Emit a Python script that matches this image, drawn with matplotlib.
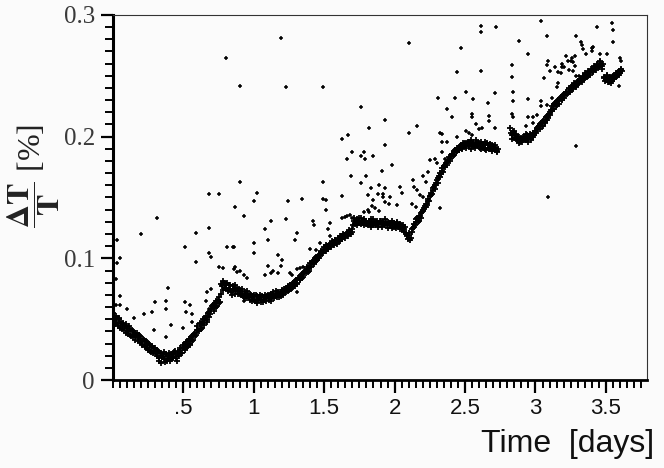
import numpy as np
import matplotlib
matplotlib.use("Agg")
import matplotlib.pyplot as plt
from matplotlib.ticker import MultipleLocator, FixedLocator

band_a_start = 0.00
band_a = [
    0.055, 0.049, 0.053, 0.047, 0.050, 0.043, 0.048, 0.045, 0.041, 0.046,
    0.043, 0.038, 0.042, 0.036, 0.040, 0.037, 0.033, 0.039, 0.035, 0.036,
    0.034, 0.029, 0.033, 0.027, 0.031, 0.025, 0.029, 0.023, 0.028, 0.024,
    0.026, 0.020, 0.024, 0.016, 0.022, 0.019, 0.023, 0.015, 0.021, 0.018,
    0.022, 0.017, 0.021, 0.019, 0.024, 0.018, 0.023, 0.020, 0.026, 0.022,
    0.029, 0.025, 0.031, 0.028, 0.034, 0.030, 0.036, 0.033, 0.039, 0.037,
    0.044, 0.040, 0.047, 0.043, 0.050, 0.047, 0.053, 0.049, 0.056, 0.054,
    0.058, 0.062, 0.059, 0.065, 0.061, 0.068, 0.064, 0.079, 0.074, 0.080,
    0.076, 0.080, 0.074, 0.078, 0.072, 0.077, 0.075, 0.071, 0.076, 0.073,
    0.074, 0.070, 0.073, 0.068, 0.072, 0.069, 0.071, 0.066, 0.070, 0.068,
    0.070, 0.065, 0.069, 0.066, 0.068, 0.064, 0.069, 0.066, 0.070, 0.067,
    0.070, 0.066, 0.071, 0.068, 0.072, 0.069, 0.073, 0.070, 0.068, 0.072,
    0.074, 0.070, 0.075, 0.072, 0.077, 0.074, 0.078, 0.076, 0.080, 0.077,
    0.082, 0.079, 0.084, 0.082, 0.087, 0.085, 0.089, 0.088, 0.093, 0.090,
    0.096, 0.093, 0.098, 0.097, 0.101, 0.099, 0.103, 0.102, 0.106, 0.104,
    0.109, 0.106, 0.110, 0.108, 0.112, 0.110, 0.113, 0.111, 0.115, 0.112,
    0.117, 0.114, 0.118, 0.116, 0.119, 0.117, 0.121, 0.118, 0.122, 0.120,
    0.122, 0.131, 0.128, 0.132, 0.129, 0.133, 0.128, 0.131, 0.127, 0.130,
    0.131, 0.127, 0.130, 0.126, 0.129, 0.132, 0.127, 0.130, 0.126, 0.129,
    0.131, 0.126, 0.129, 0.127, 0.130, 0.125, 0.129, 0.127, 0.131, 0.126,
    0.128, 0.125, 0.129, 0.126, 0.128, 0.124, 0.127, 0.124, 0.121, 0.118,
    0.119, 0.115, 0.122, 0.125, 0.128, 0.130, 0.133, 0.131, 0.135, 0.137,
    0.140, 0.141, 0.145, 0.144, 0.149, 0.151, 0.154, 0.156, 0.159, 0.160,
    0.164, 0.166, 0.170, 0.169, 0.174, 0.176, 0.175, 0.179, 0.181, 0.180,
    0.184, 0.186, 0.185, 0.189, 0.188, 0.191, 0.189, 0.193, 0.190, 0.194,
    0.195, 0.191, 0.196, 0.192, 0.197, 0.193, 0.195, 0.191, 0.196, 0.192,
    0.195, 0.190, 0.194, 0.191, 0.196, 0.189, 0.193, 0.190, 0.194, 0.188,
    0.192, 0.189, 0.191, 0.188,
]
# second pass of the band, half a step later
band_a2_start = 0.005
band_a2 = [
    0.051, 0.046, 0.050, 0.044, 0.051, 0.046, 0.042, 0.047, 0.044, 0.039,
    0.040, 0.044, 0.037, 0.041, 0.035, 0.039, 0.036, 0.032, 0.037, 0.031,
    0.030, 0.034, 0.028, 0.032, 0.026, 0.030, 0.024, 0.027, 0.022, 0.026,
    0.021, 0.025, 0.018, 0.022, 0.014, 0.020, 0.017, 0.021, 0.016, 0.020,
    0.016, 0.021, 0.018, 0.023, 0.020, 0.016, 0.021, 0.025, 0.022, 0.027,
    0.026, 0.030, 0.027, 0.032, 0.029, 0.035, 0.032, 0.038, 0.036, 0.041,
    0.041, 0.046, 0.042, 0.048, 0.045, 0.051, 0.048, 0.055, 0.052, 0.058,
    0.061, 0.057, 0.063, 0.060, 0.066, 0.063, 0.071, 0.077, 0.081, 0.076,
    0.079, 0.073, 0.078, 0.075, 0.070, 0.074, 0.078, 0.073, 0.071, 0.075,
    0.071, 0.075, 0.069, 0.071, 0.067, 0.073, 0.068, 0.071, 0.065, 0.069,
    0.066, 0.070, 0.063, 0.067, 0.070, 0.066, 0.064, 0.068, 0.065, 0.069,
    0.067, 0.070, 0.065, 0.069, 0.067, 0.071, 0.068, 0.072, 0.071, 0.069,
    0.071, 0.075, 0.073, 0.076, 0.073, 0.078, 0.075, 0.079, 0.078, 0.081,
    0.080, 0.084, 0.083, 0.086, 0.084, 0.088, 0.090, 0.091, 0.089, 0.094,
    0.094, 0.097, 0.095, 0.100, 0.098, 0.102, 0.100, 0.105, 0.104, 0.107,
    0.107, 0.111, 0.108, 0.111, 0.109, 0.114, 0.112, 0.115, 0.113, 0.116,
    0.115, 0.118, 0.116, 0.120, 0.118, 0.120, 0.119, 0.123, 0.121, 0.124,
    0.127, 0.133, 0.130, 0.127, 0.131, 0.129, 0.133, 0.129, 0.132, 0.128,
    0.128, 0.131, 0.128, 0.132, 0.127, 0.130, 0.128, 0.131, 0.128, 0.131,
    0.128, 0.130, 0.128, 0.132, 0.127, 0.130, 0.128, 0.129, 0.125, 0.129,
    0.126, 0.130, 0.127, 0.124, 0.127, 0.125, 0.122, 0.126, 0.119, 0.116,
    0.121, 0.117, 0.124, 0.126, 0.127, 0.132, 0.130, 0.134, 0.133, 0.138,
    0.139, 0.143, 0.142, 0.147, 0.147, 0.152, 0.153, 0.158, 0.157, 0.162,
    0.162, 0.168, 0.167, 0.172, 0.171, 0.177, 0.178, 0.177, 0.183, 0.182,
    0.186, 0.184, 0.188, 0.187, 0.191, 0.189, 0.192, 0.191, 0.195, 0.192,
    0.192, 0.195, 0.193, 0.196, 0.190, 0.194, 0.192, 0.197, 0.193, 0.195,
    0.191, 0.196, 0.192, 0.194, 0.190, 0.195, 0.191, 0.193, 0.190, 0.193,
    0.190, 0.193, 0.187, 0.190,
]
band_b_start = 2.82
band_b = [
    0.207, 0.201, 0.204, 0.199, 0.202, 0.197, 0.200, 0.196, 0.199, 0.197,
    0.200, 0.197, 0.201, 0.198, 0.202, 0.199, 0.203, 0.201, 0.205, 0.207,
    0.208, 0.206, 0.211, 0.209, 0.214, 0.212, 0.217, 0.215, 0.220, 0.222,
    0.225, 0.223, 0.228, 0.226, 0.230, 0.229, 0.233, 0.231, 0.235, 0.234,
    0.237, 0.236, 0.240, 0.238, 0.242, 0.240, 0.243, 0.242, 0.246, 0.244,
    0.247, 0.245, 0.249, 0.248, 0.251, 0.250, 0.253, 0.251, 0.255, 0.253,
    0.257, 0.255, 0.259, 0.257, 0.261, 0.258, 0.260, 0.249, 0.247, 0.251,
    0.245, 0.249, 0.246, 0.250, 0.248, 0.252, 0.250, 0.254, 0.252, 0.256,
]
band_b2_start = 2.825
band_b2 = [
    0.203, 0.198, 0.205, 0.201, 0.198, 0.200, 0.195, 0.198, 0.196, 0.200,
    0.198, 0.202, 0.196, 0.200, 0.197, 0.201, 0.200, 0.204, 0.203, 0.206,
    0.209, 0.210, 0.209, 0.213, 0.211, 0.216, 0.214, 0.219, 0.218, 0.221,
    0.223, 0.227, 0.225, 0.229, 0.227, 0.232, 0.230, 0.234, 0.232, 0.236,
    0.235, 0.239, 0.237, 0.241, 0.239, 0.244, 0.241, 0.245, 0.243, 0.247,
    0.246, 0.250, 0.247, 0.252, 0.249, 0.254, 0.252, 0.256, 0.254, 0.258,
    0.256, 0.260, 0.258, 0.262, 0.259, 0.256, 0.248, 0.246, 0.250, 0.245,
    0.247, 0.244, 0.249, 0.247, 0.251, 0.249, 0.253, 0.251, 0.255, 0.254,
]

# scattered points off the band (time [days], dT/T [%])
outliers = [
    (0.80, 0.265), (1.19, 0.281), (0.90, 0.242), (1.23, 0.241), (1.49, 0.241),
    (1.76, 0.224), (1.93, 0.214), (1.82, 0.207), (1.63, 0.198), (1.67, 0.201),
    (1.93, 0.193), (1.70, 0.187), (1.76, 0.184), (1.78, 0.187), (1.79, 0.182),
    (1.66, 0.182), (1.85, 0.184), (1.91, 0.172), (1.69, 0.168), (1.80, 0.168),
    (1.76, 0.162), (1.49, 0.163), (0.90, 0.163), (0.68, 0.153), (0.75, 0.153),
    (1.02, 0.154), (1.00, 0.147), (0.87, 0.142), (0.93, 0.135), (1.24, 0.147),
    (1.34, 0.149), (1.49, 0.149), (1.51, 0.148), (1.51, 0.140), (1.63, 0.151),
    (1.81, 0.152), (1.88, 0.153), (1.92, 0.153), (1.83, 0.158), (1.89, 0.160),
    (0.31, 0.133), (0.20, 0.120), (0.59, 0.121), (0.68, 0.125), (1.12, 0.131),
    (1.08, 0.124), (1.23, 0.132), (1.31, 0.121), (1.42, 0.131), (1.43, 0.127),
    (1.54, 0.129), (1.53, 0.124), (1.85, 0.148), (1.84, 0.143), (1.86, 0.141),
    (1.89, 0.139), (1.82, 0.138), (1.81, 0.140), (1.78, 0.138), (1.65, 0.134),
    (1.70, 0.133), (1.98, 0.177), (1.63, 0.133), (1.66, 0.135), (1.68, 0.136),
    (1.29, 0.115), (1.10, 0.115), (1.00, 0.113), (1.00, 0.104), (1.54, 0.118),
    (1.47, 0.113), (1.44, 0.107), (1.40, 0.108), (1.17, 0.103), (1.20, 0.099),
    (1.19, 0.094), (1.10, 0.094), (1.14, 0.090), (1.08, 0.086), (1.26, 0.088),
    (1.27, 0.086), (1.33, 0.092), (1.35, 0.093), (1.31, 0.072), (0.86, 0.109),
    (1.12, 0.088), (1.17, 0.088), (1.31, 0.091), (0.87, 0.093), (0.90, 0.090),
    (0.93, 0.086), (0.95, 0.084), (0.93, 0.065),
    (0.03, 0.115), (0.51, 0.109), (0.59, 0.097), (0.68, 0.104), (0.70, 0.101),
    (0.81, 0.109), (0.85, 0.109), (0.05, 0.100), (0.03, 0.096), (0.02, 0.083),
    (0.05, 0.069), (0.05, 0.062), (0.02, 0.062), (0.03, 0.052), (0.10, 0.058),
    (0.15, 0.051), (0.22, 0.054), (0.28, 0.056), (0.30, 0.064), (0.38, 0.065),
    (0.38, 0.058), (0.39, 0.076), (0.41, 0.045), (0.29, 0.041), (0.38, 0.035),
    (0.51, 0.064), (0.52, 0.056), (0.55, 0.062), (0.56, 0.054), (0.50, 0.043),
    (0.56, 0.048), (0.67, 0.072), (0.70, 0.075), (0.66, 0.065), (0.68, 0.058),
    (0.75, 0.093), (0.78, 0.092), (0.86, 0.091), (0.88, 0.089), (0.71, 0.062),
    (0.74, 0.060),
    (2.16, 0.209), (2.10, 0.203), (2.32, 0.203), (2.34, 0.202), (2.34, 0.196),
    (2.25, 0.181), (2.29, 0.182), (2.30, 0.178), (2.34, 0.187), (2.36, 0.182),
    (2.37, 0.178), (2.13, 0.164), (2.20, 0.168), (2.24, 0.171), (2.22, 0.163),
    (1.93, 0.158), (1.92, 0.150), (1.97, 0.150), (2.04, 0.159), (2.05, 0.154),
    (2.14, 0.159), (2.16, 0.156), (2.18, 0.152), (2.20, 0.150), (1.93, 0.146),
    (1.96, 0.145), (2.02, 0.144), (2.12, 0.145), (2.15, 0.142), (2.32, 0.141),
    (2.10, 0.277), (2.61, 0.291), (2.61, 0.286), (2.72, 0.290), (3.04, 0.295),
    (3.08, 0.283), (3.44, 0.290), (3.54, 0.293), (3.55, 0.288), (3.55, 0.278),
    (2.47, 0.273), (2.88, 0.279), (2.95, 0.268), (3.29, 0.283), (3.32, 0.278),
    (3.33, 0.275), (3.34, 0.272), (3.40, 0.273), (3.41, 0.274), (3.46, 0.268),
    (3.51, 0.268), (2.44, 0.253), (2.61, 0.254), (2.83, 0.259), (2.83, 0.249),
    (3.09, 0.262), (3.10, 0.254), (3.06, 0.248), (3.16, 0.253), (3.19, 0.260),
    (3.19, 0.257), (3.22, 0.266), (3.26, 0.265), (3.28, 0.266), (3.25, 0.262),
    (2.31, 0.232), (2.43, 0.232), (2.51, 0.237), (2.56, 0.231), (2.66, 0.228),
    (2.71, 0.236), (2.84, 0.237), (2.84, 0.229), (2.95, 0.231), (3.04, 0.229),
    (2.37, 0.223), (2.41, 0.216), (2.55, 0.219), (2.55, 0.216), (2.67, 0.217),
    (2.67, 0.213), (2.71, 0.207), (2.58, 0.210), (2.60, 0.206), (2.62, 0.207),
    (2.51, 0.205), (2.53, 0.203), (2.55, 0.201), (2.44, 0.200), (2.37, 0.196),
    (2.83, 0.219), (2.84, 0.216), (2.95, 0.216), (3.01, 0.218), (3.04, 0.225),
    (3.08, 0.226), (3.29, 0.192), (3.09, 0.150), (3.14, 0.257), (3.18, 0.252),
    (3.20, 0.257), (3.23, 0.262), (3.27, 0.261), (3.28, 0.258), (3.27, 0.254),
    (3.29, 0.250), (3.31, 0.250), (3.36, 0.268), (3.40, 0.270), (3.59, 0.242),
    (3.60, 0.265), (3.61, 0.262), (3.08, 0.259), (3.12, 0.232), (3.16, 0.244),
    (3.24, 0.255), (3.15, 0.241), (2.93, 0.209), (2.98, 0.216), (2.98, 0.211),
]

x_major = [0.5, 1.0, 1.5, 2.0, 2.5, 3.0, 3.5]
x_labels = [".5", "1", "1.5", "2", "2.5", "3", "3.5"]
y_major = [0.0, 0.1, 0.2, 0.3]
y_labels = ["0", "0.1", "0.2", "0.3"]


def times(start, values):
    return np.round(start + 0.01 * np.arange(len(values)), 3)


band_series = [
    (times(band_a_start, band_a), band_a),
    (times(band_a2_start, band_a2), band_a2),
    (times(band_b_start, band_b), band_b),
    (times(band_b2_start, band_b2), band_b2),
]

plt.rcParams["mathtext.fontset"] = "stix"
fig = plt.figure(figsize=(6.64, 4.68), dpi=100, facecolor="#fbfbfb")
ax = fig.add_axes([0.170, 0.188, 0.804, 0.780])
ax.set_facecolor("#fbfbfb")

for t, y in band_series:
    ax.plot(t, y, "+", color="k", ms=4, mew=1.3, linestyle="none")
ax.plot([p[0] for p in outliers], [p[1] for p in outliers], "+", color="k",
        ms=3.2, mew=1.1, linestyle="none")

ax.set_xlim(0, 3.79)
ax.set_ylim(0, 0.3)

# axes frame: thick left/bottom, dotted top/right
ax.spines["left"].set_linewidth(2.2)
ax.spines["bottom"].set_linewidth(2.0)
for s in ["top", "right"]:
    ax.spines[s].set_linewidth(0.8)
    ax.spines[s].set_linestyle((0, (1, 1)))
    ax.spines[s].set_color("#333333")

ax.xaxis.set_major_locator(FixedLocator(x_major))
ax.set_xticklabels(x_labels, family="Liberation Sans", fontsize=16, color="#111111")
ax.xaxis.set_minor_locator(MultipleLocator(0.05))
ax.yaxis.set_major_locator(FixedLocator(y_major))
ax.set_yticklabels(y_labels, family="Liberation Serif", fontsize=18, color="#3a3a3a")
ax.yaxis.set_minor_locator(MultipleLocator(0.01))
ax.tick_params(which="major", direction="out", length=9, width=1.6, pad=4)
ax.tick_params(which="minor", direction="out", length=6, width=1.4)
ax.tick_params(top=False, right=False, which="both")

ax.set_ylabel(r"$\mathbf{\dfrac{\Delta T}{T}}$ [%]", family="Liberation Serif",
              fontsize=23, color="#222222")
ax.yaxis.set_label_coords(-0.095, 0.56)

fig.text(0.985, 0.035, "Time  [days]", family="Liberation Sans", fontsize=23,
         ha="right", va="baseline", color="#111111")

fig.savefig("out.png", dpi=100, facecolor=fig.get_facecolor())
